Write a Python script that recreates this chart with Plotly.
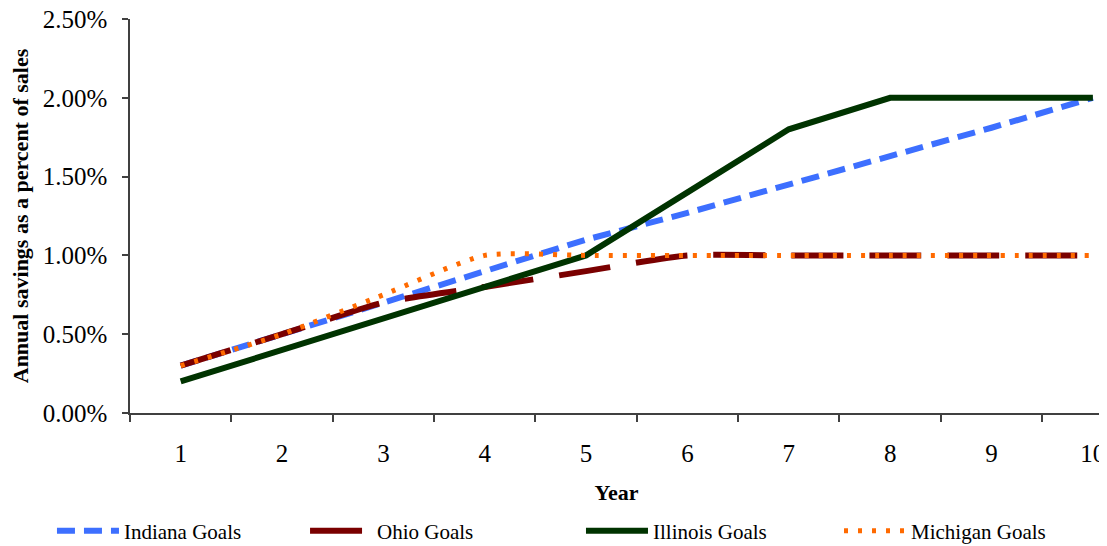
import plotly.graph_objects as go

years = [1, 2, 3, 4, 5, 6, 7, 8, 9, 10]
year_labels = ["1", "2", "3", "4", "5", "6", "7", "8", "9", "10"]
indiana = [0.30, 0.50, 0.70, 0.90, 1.10, 1.27, 1.45, 1.63, 1.81, 2.00]
ohio = [0.30, 0.50, 0.70, 0.80, 0.90, 1.00, 1.00, 1.00, 1.00, 1.00]
illinois = [0.20, 0.40, 0.60, 0.80, 1.00, 1.40, 1.80, 2.00, 2.00, 2.00]
michigan = [0.30, 0.50, 0.75, 1.00, 1.00, 1.00, 1.00, 1.00, 1.00, 1.00]
y_ticks = [0, 0.5, 1.0, 1.5, 2.0, 2.5]
y_tick_labels = ["0.00%", "0.50%", "1.00%", "1.50%", "2.00%", "2.50%"]

FONT = "Liberation Serif"

fig = go.Figure()
fig.add_trace(go.Scatter(x=years, y=indiana, mode="lines", name="Indiana Goals", legend="legend",
                         line=dict(color="#3D6FFF", width=6, dash="18px,9px")))
fig.add_trace(go.Scatter(x=years, y=ohio, mode="lines", name="Ohio Goals", legend="legend2",
                         line=dict(color="#7A0000", width=6, dash="52px,26px", shape="spline", smoothing=0.6)))
fig.add_trace(go.Scatter(x=years, y=illinois, mode="lines", name="Illinois Goals", legend="legend3",
                         line=dict(color="#003300", width=6)))
fig.add_trace(go.Scatter(x=years, y=michigan, mode="lines", name="Michigan Goals", legend="legend4",
                         line=dict(color="#FF6A00", width=5, dash="4px,10px", shape="spline", smoothing=0.6)))

def leg(x):
    return dict(orientation="h", x=x, y=-0.30, xanchor="left", yanchor="middle",
                font=dict(size=21, family=FONT), itemwidth=62, bgcolor="rgba(0,0,0,0)")

fig.update_layout(
    width=1099, height=538,
    margin=dict(l=122, r=4, t=11, b=133, autoexpand=False),
    paper_bgcolor="white", plot_bgcolor="white",
    font=dict(family=FONT, color="black", size=20),
    xaxis=dict(
        range=[0.5, 10.1], showgrid=False, zeroline=False, automargin=False,
        showline=True, linecolor="#404040", linewidth=1.5,
        tickmode="array", tickvals=years, ticktext=year_labels, ticks="",
        tickfont=dict(size=25, family=FONT), ticklabelstandoff=17, ticklabeloverflow="allow",
        minor=dict(tickmode="array", tickvals=[0.5, 1.5, 2.5, 3.5, 4.5, 5.5, 6.5, 7.5, 8.5, 9.5],
                   ticks="outside", ticklen=7, tickcolor="#404040", tickwidth=1.5, showgrid=False),
        title=dict(text="<b>Year</b>", font=dict(size=22, family=FONT), standoff=19),
    ),
    yaxis=dict(
        range=[0, 2.5], showgrid=False, zeroline=False, automargin=False,
        showline=True, linecolor="#404040", linewidth=1.5,
        tickmode="array", tickvals=y_ticks, ticktext=y_tick_labels,
        ticks="outside", ticklen=6, tickcolor="#404040", tickwidth=1.5,
        tickfont=dict(size=25, family=FONT), ticklabelstandoff=10, ticklabeloverflow="allow",
        title=dict(text="<b>Annual savings as a percent of sales</b>", font=dict(size=22, family=FONT), standoff=12),
    ),
    legend=leg(-0.0802),
    legend2=leg(0.1799),
    legend3=leg(0.4635),
    legend4=leg(0.7287),
    showlegend=True,
)

fig.write_html("out.html")
